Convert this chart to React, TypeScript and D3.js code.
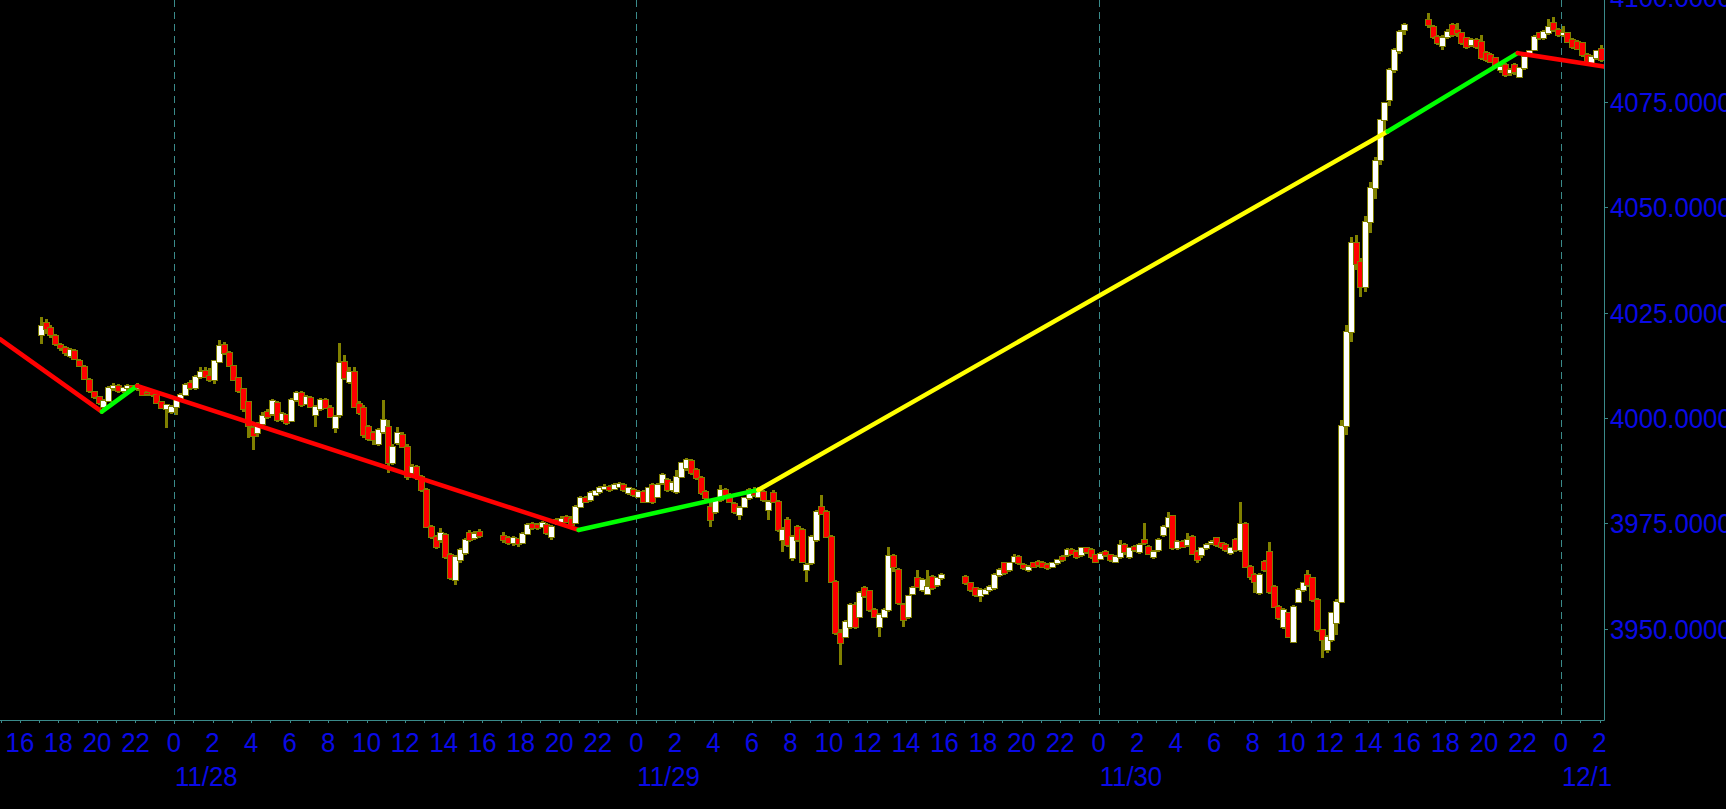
import { useMemo } from "react";
import * as d3 from "d3";

// 15-minute ES candles, [open, high, low, close], one array per Globex session
const SESSION_STARTS = ["2022-11-27T17:00:00Z", "2022-11-28T17:00:00Z", "2022-11-29T17:00:00Z", "2022-11-30T17:00:00Z"];

const SESSION_1 = [
  [4019.7, 4024.0, 4017.5, 4021.7], [4022.5, 4023.5, 4020.0, 4021.0], [4021.3, 4022.0, 4019.0, 4019.7], [4019.5, 4020.0, 4017.0, 4017.5],
  [4017.4, 4017.8, 4015.8, 4016.5], [4016.6, 4017.0, 4014.8, 4015.3], [4014.8, 4016.5, 4014.3, 4016.2], [4016.0, 4016.3, 4013.7, 4014.0],
  [4013.5, 4014.0, 4012.0, 4012.3], [4012.2, 4012.5, 4009.0, 4009.3], [4009.1, 4009.5, 4006.0, 4006.3], [4006.2, 4006.5, 4004.5, 4005.0],
  [4005.0, 4005.3, 4003.0, 4003.6], [4002.5, 4004.5, 4001.5, 4004.0], [4004.0, 4007.5, 4003.7, 4007.0], [4007.0, 4008.3, 4006.5, 4007.6],
  [4007.6, 4008.0, 4006.0, 4006.3], [4006.3, 4007.3, 4005.8, 4007.0], [4007.0, 4008.0, 4006.7, 4007.5], [4007.5, 4007.8, 4006.5, 4006.9],
  [4006.9, 4008.2, 4006.5, 4007.6], [4007.0, 4007.5, 4005.3, 4005.5], [4006.0, 4006.5, 4005.3, 4005.8], [4005.8, 4006.3, 4005.0, 4005.5],
  [4005.5, 4006.0, 4003.2, 4003.5], [4003.8, 4004.0, 4002.0, 4002.3], [4002.2, 4003.3, 3997.5, 4003.0], [4001.5, 4003.0, 4001.0, 4002.6],
  [4002.6, 4005.0, 4000.7, 4004.5], [4004.5, 4006.0, 4004.2, 4005.5], [4005.5, 4008.3, 4005.2, 4007.8], [4008.2, 4009.0, 4006.6, 4007.0],
  [4007.0, 4010.2, 4006.6, 4009.8], [4009.7, 4012.2, 4009.3, 4011.0], [4011.2, 4012.0, 4009.5, 4009.8], [4010.0, 4011.8, 4008.6, 4009.0],
  [4009.0, 4013.5, 4008.0, 4013.4], [4013.2, 4018.4, 4013.0, 4017.0], [4017.2, 4018.0, 4015.0, 4015.3], [4015.4, 4015.8, 4012.0, 4012.3],
  [4012.3, 4012.6, 4008.7, 4009.0], [4009.4, 4009.8, 4006.0, 4006.3], [4006.8, 4007.0, 4001.5, 4002.0], [4003.8, 4004.0, 3995.2, 3998.0],
  [3997.5, 3998.0, 3992.4, 3995.6], [3996.3, 3999.0, 3995.5, 3998.6], [3998.5, 4001.3, 3998.0, 4000.5], [4001.4, 4002.0, 3999.7, 4000.3],
  [4001.0, 4004.6, 4000.5, 4004.0], [4003.5, 4004.0, 3999.0, 3999.5], [3999.5, 4001.5, 3999.0, 4001.0], [4000.7, 4001.0, 3998.3, 3998.8],
  [3999.3, 4004.8, 3999.0, 4004.2], [4004.2, 4006.5, 4003.8, 4005.8], [4005.8, 4006.5, 4002.6, 4003.0], [4003.4, 4005.5, 4003.0, 4005.0],
  [4004.8, 4005.3, 4002.3, 4002.7], [4000.7, 4003.0, 3997.9, 4002.6], [4002.0, 4004.8, 4001.7, 4004.3], [4004.3, 4004.8, 4002.0, 4002.3],
  [4002.3, 4003.0, 4000.0, 4000.3], [3997.6, 4000.6, 3996.5, 4000.2], [4000.6, 4017.7, 4000.0, 4013.0], [4013.3, 4015.0, 4009.0, 4009.4],
  [4008.5, 4012.2, 4008.0, 4011.0], [4011.0, 4012.0, 4002.3, 4002.7], [4003.4, 4004.0, 4000.7, 4001.1], [4002.3, 4003.0, 3995.3, 3995.9],
  [3997.9, 3998.3, 3994.5, 3995.1], [3996.3, 3997.0, 3993.5, 3994.8], [3993.9, 3997.6, 3993.3, 3997.1], [3996.7, 4004.3, 3996.2, 3999.5],
  [3997.9, 3999.6, 3986.8, 3989.2], [3989.2, 3993.8, 3988.7, 3993.2], [3994.0, 3997.8, 3993.5, 3996.5], [3995.9, 3996.6, 3992.8, 3993.2],
  [3993.2, 3993.7, 3985.2, 3986.0], [3986.8, 3989.0, 3986.2, 3988.4], [3988.4, 3988.9, 3985.3, 3986.0], [3986.0, 3986.5, 3982.3, 3982.9],
  [3982.9, 3983.3, 3973.8, 3974.2], [3974.2, 3974.6, 3971.2, 3971.8], [3971.8, 3972.2, 3968.8, 3969.4], [3971.0, 3973.8, 3970.2, 3972.6],
  [3972.2, 3972.7, 3966.5, 3967.0], [3967.5, 3968.0, 3961.5, 3962.0], [3961.5, 3967.5, 3960.3, 3967.0], [3966.2, 3969.2, 3965.5, 3968.6],
  [3968.0, 3971.5, 3967.5, 3971.0], [3972.6, 3973.4, 3970.5, 3971.0], [3971.5, 3973.2, 3971.0, 3972.5], [3972.8, 3973.6, 3971.4, 3972.0],
];

const SESSION_2 = [
  [3972.0, 3973.0, 3970.2, 3971.0], [3971.5, 3972.0, 3969.8, 3970.3], [3970.3, 3972.0, 3969.7, 3971.4], [3971.3, 3971.6, 3969.3, 3970.1],
  [3970.4, 3973.0, 3970.0, 3972.5], [3972.5, 3975.1, 3972.2, 3974.6], [3974.8, 3975.3, 3973.4, 3973.8], [3974.5, 3975.0, 3973.3, 3973.8],
  [3974.2, 3975.5, 3973.8, 3975.0], [3974.6, 3975.0, 3972.2, 3972.6], [3971.8, 3974.6, 3970.9, 3974.2], [3975.8, 3976.3, 3974.5, 3975.0],
  [3975.4, 3976.6, 3975.0, 3976.1], [3976.5, 3977.0, 3975.0, 3975.4], [3976.1, 3976.6, 3974.2, 3974.6], [3975.0, 3979.3, 3974.7, 3978.9],
  [3978.9, 3981.4, 3978.5, 3980.9], [3980.9, 3981.5, 3979.7, 3980.1], [3980.5, 3982.6, 3980.1, 3982.1], [3981.8, 3983.0, 3981.4, 3982.6],
  [3982.3, 3983.8, 3982.0, 3983.3], [3983.2, 3984.3, 3982.8, 3983.7], [3983.6, 3984.0, 3982.4, 3982.8], [3983.2, 3984.6, 3982.9, 3984.0],
  [3983.7, 3984.8, 3983.3, 3984.2], [3984.1, 3984.5, 3982.5, 3982.9], [3982.1, 3983.7, 3981.7, 3983.3], [3982.9, 3983.3, 3981.3, 3981.7],
  [3981.3, 3983.0, 3980.9, 3982.5], [3982.5, 3983.0, 3979.7, 3980.1], [3980.1, 3983.7, 3979.7, 3983.3], [3984.1, 3984.5, 3979.5, 3980.1],
  [3981.3, 3984.6, 3980.9, 3984.1], [3984.5, 3987.0, 3984.0, 3986.4], [3985.3, 3985.8, 3982.5, 3982.9], [3982.9, 3985.0, 3982.4, 3984.5],
  [3982.5, 3987.6, 3982.0, 3986.0], [3986.0, 3989.6, 3985.7, 3989.2], [3988.0, 3990.4, 3987.5, 3990.0], [3989.8, 3990.2, 3986.4, 3986.8],
  [3987.6, 3988.0, 3985.3, 3985.7], [3985.7, 3986.1, 3981.7, 3982.1], [3982.5, 3982.9, 3980.5, 3980.9], [3978.9, 3980.5, 3974.2, 3975.8],
  [3977.7, 3981.0, 3977.2, 3980.5], [3980.5, 3984.1, 3980.0, 3982.9], [3982.9, 3983.3, 3981.3, 3981.7], [3981.7, 3982.1, 3979.7, 3980.1],
  [3979.5, 3980.0, 3977.2, 3977.7], [3977.0, 3979.0, 3975.8, 3978.5], [3978.9, 3981.3, 3978.5, 3980.9], [3980.9, 3983.3, 3980.5, 3982.9],
  [3982.9, 3983.5, 3981.3, 3981.7], [3981.3, 3983.6, 3980.9, 3983.0], [3982.5, 3983.0, 3980.0, 3980.5], [3978.1, 3980.6, 3975.8, 3980.1],
  [3982.1, 3982.9, 3979.7, 3980.1], [3980.1, 3980.5, 3972.9, 3973.4], [3971.0, 3974.0, 3968.2, 3973.4], [3975.8, 3976.5, 3969.4, 3969.8],
  [3966.7, 3972.2, 3966.0, 3971.8], [3974.2, 3974.6, 3970.6, 3971.0], [3973.4, 3973.8, 3965.5, 3965.9], [3963.9, 3965.6, 3961.1, 3965.1],
  [3965.5, 3972.2, 3965.0, 3971.8], [3971.0, 3978.1, 3970.6, 3977.7], [3978.9, 3981.7, 3976.9, 3977.3], [3977.7, 3978.1, 3971.4, 3971.8],
  [3971.8, 3972.2, 3960.7, 3961.1], [3961.1, 3961.5, 3948.5, 3949.0], [3949.0, 3950.0, 3941.3, 3946.5], [3948.1, 3952.0, 3947.7, 3951.6],
  [3950.4, 3956.0, 3950.0, 3955.6], [3955.6, 3956.2, 3950.0, 3950.4], [3952.8, 3958.8, 3952.4, 3958.4], [3959.5, 3960.0, 3957.2, 3957.6],
  [3958.8, 3959.2, 3954.0, 3954.4], [3954.4, 3954.8, 3952.4, 3952.8], [3950.4, 3953.6, 3948.1, 3953.2], [3952.8, 3954.8, 3952.4, 3954.4],
  [3954.4, 3969.4, 3954.0, 3967.1], [3967.1, 3967.8, 3963.5, 3964.5], [3963.9, 3964.3, 3955.6, 3956.0], [3955.6, 3956.0, 3950.4, 3952.0],
  [3952.8, 3958.0, 3952.3, 3957.6], [3958.3, 3960.0, 3957.9, 3959.5], [3961.9, 3963.9, 3959.5, 3959.9], [3959.1, 3962.0, 3958.7, 3961.5],
  [3958.3, 3963.9, 3958.0, 3959.9], [3962.3, 3962.7, 3959.1, 3959.5], [3960.3, 3962.3, 3959.9, 3961.9], [3961.9, 3963.1, 3961.5, 3962.7],
];

const SESSION_3 = [
  [3962.3, 3962.7, 3960.3, 3960.7], [3960.7, 3961.1, 3958.7, 3959.1], [3959.5, 3959.9, 3957.5, 3957.9], [3957.6, 3959.5, 3956.4, 3959.1],
  [3958.3, 3959.5, 3957.9, 3959.1], [3959.1, 3960.3, 3958.7, 3959.9], [3959.5, 3963.1, 3959.1, 3962.7], [3962.7, 3964.3, 3962.3, 3963.9],
  [3965.5, 3965.9, 3962.7, 3963.1], [3963.9, 3965.9, 3963.5, 3965.5], [3965.9, 3967.8, 3965.5, 3967.0], [3967.0, 3967.4, 3965.1, 3965.5],
  [3965.1, 3965.5, 3963.9, 3964.3], [3963.9, 3965.1, 3963.5, 3964.7], [3965.5, 3965.9, 3964.3, 3964.7], [3965.9, 3966.3, 3964.7, 3965.1],
  [3965.5, 3966.0, 3964.3, 3964.7], [3965.1, 3965.5, 3963.9, 3964.3], [3964.7, 3965.9, 3964.3, 3965.5], [3965.5, 3966.6, 3965.1, 3966.3],
  [3967.0, 3967.4, 3965.9, 3966.3], [3967.4, 3969.0, 3967.0, 3968.6], [3968.6, 3969.0, 3967.4, 3967.8], [3968.2, 3968.6, 3966.6, 3967.0],
  [3967.4, 3969.4, 3967.0, 3969.0], [3969.0, 3969.4, 3967.8, 3968.2], [3968.6, 3969.0, 3966.6, 3967.0], [3967.4, 3967.8, 3965.5, 3965.9],
  [3966.6, 3968.2, 3966.3, 3967.8], [3968.2, 3968.6, 3967.0, 3967.4], [3967.4, 3967.8, 3965.9, 3966.3], [3965.9, 3967.4, 3965.5, 3967.0],
  [3967.0, 3971.0, 3966.6, 3969.8], [3969.8, 3970.2, 3967.4, 3968.2], [3967.0, 3969.4, 3966.6, 3969.0], [3969.4, 3969.8, 3968.2, 3968.6],
  [3968.2, 3970.2, 3967.8, 3969.8], [3971.0, 3975.0, 3969.8, 3970.2], [3969.4, 3969.8, 3967.4, 3967.8], [3967.0, 3968.6, 3966.6, 3968.2],
  [3968.6, 3971.4, 3968.2, 3971.0], [3972.2, 3974.6, 3971.8, 3974.2], [3974.2, 3977.7, 3973.8, 3976.2], [3976.6, 3977.0, 3968.6, 3969.0],
  [3969.0, 3971.0, 3968.6, 3970.6], [3970.6, 3971.0, 3969.0, 3969.4], [3969.8, 3972.6, 3969.4, 3971.0], [3971.8, 3972.2, 3967.4, 3967.8],
  [3968.2, 3968.6, 3965.5, 3966.3], [3967.4, 3969.4, 3966.8, 3969.0], [3969.0, 3970.2, 3968.6, 3969.8], [3970.2, 3971.0, 3969.8, 3970.6],
  [3971.4, 3971.8, 3969.4, 3969.8], [3970.2, 3970.6, 3968.9, 3969.4], [3969.8, 3970.2, 3968.2, 3968.6], [3967.9, 3969.4, 3967.4, 3969.0],
  [3971.0, 3971.4, 3968.2, 3968.6], [3968.6, 3980.1, 3968.2, 3974.9], [3974.9, 3975.3, 3964.3, 3964.7], [3964.7, 3965.1, 3961.5, 3962.3],
  [3962.7, 3963.1, 3958.4, 3961.1], [3958.4, 3963.1, 3958.0, 3962.7], [3965.9, 3966.3, 3963.5, 3963.9], [3968.2, 3970.6, 3958.3, 3958.7],
  [3959.9, 3960.3, 3954.8, 3955.2], [3955.2, 3955.6, 3952.0, 3952.4], [3950.4, 3954.8, 3950.0, 3954.4], [3953.6, 3954.0, 3947.7, 3948.1],
  [3946.9, 3955.6, 3946.5, 3955.2], [3956.4, 3959.5, 3956.0, 3959.1], [3959.1, 3961.1, 3958.7, 3960.7], [3962.7, 3963.9, 3959.9, 3960.3],
  [3961.9, 3962.3, 3956.4, 3956.8], [3956.8, 3957.2, 3949.2, 3949.6], [3949.6, 3950.0, 3942.9, 3947.3], [3944.9, 3948.5, 3944.1, 3948.1],
  [3947.3, 3954.0, 3946.9, 3953.6], [3951.2, 3957.0, 3948.5, 3956.4], [3956.4, 3999.5, 3956.0, 3998.0], [3998.0, 4022.0, 3996.0, 4020.5],
  [4020.5, 4043.0, 4018.0, 4041.5], [4041.5, 4043.5, 4035.0, 4036.5], [4037.0, 4038.0, 4028.7, 4031.0], [4031.0, 4048.0, 4030.0, 4046.5],
  [4046.5, 4056.0, 4044.0, 4054.5], [4054.5, 4062.0, 4052.0, 4061.0], [4061.2, 4071.0, 4060.0, 4070.7], [4070.7, 4075.0, 4067.5, 4074.7],
  [4075.5, 4083.0, 4074.0, 4082.6], [4082.6, 4087.9, 4082.0, 4087.4], [4087.0, 4092.0, 4086.5, 4091.7], [4092.0, 4093.8, 4091.0, 4093.3],
];

const SESSION_4 = [
  [4094.5, 4096.1, 4092.5, 4093.3], [4092.9, 4093.3, 4090.0, 4090.5], [4090.5, 4091.0, 4088.5, 4088.9], [4088.2, 4091.0, 4087.3, 4090.1],
  [4090.5, 4092.3, 4090.0, 4091.7], [4093.3, 4093.8, 4090.5, 4090.9], [4092.1, 4093.7, 4090.5, 4091.3], [4091.3, 4091.7, 4088.5, 4088.9],
  [4090.1, 4090.5, 4087.7, 4088.1], [4088.5, 4090.1, 4088.1, 4089.7], [4089.7, 4090.1, 4087.6, 4088.1], [4089.3, 4090.9, 4085.0, 4085.4],
  [4086.6, 4087.0, 4084.6, 4085.0], [4086.2, 4086.6, 4084.2, 4084.6], [4085.4, 4085.8, 4083.0, 4083.4], [4082.6, 4084.0, 4081.8, 4083.4],
  [4083.8, 4084.2, 4081.0, 4081.4], [4081.8, 4083.0, 4081.2, 4082.6], [4083.8, 4084.2, 4081.4, 4082.2], [4081.0, 4083.4, 4080.6, 4083.0],
  [4083.0, 4086.2, 4082.6, 4085.8], [4086.2, 4087.4, 4085.8, 4087.0], [4087.4, 4091.0, 4087.0, 4090.5], [4091.3, 4091.7, 4089.7, 4090.1],
  [4090.1, 4092.1, 4089.7, 4091.7], [4091.3, 4094.7, 4091.0, 4092.9], [4093.7, 4095.2, 4091.7, 4092.1], [4092.1, 4092.5, 4090.5, 4090.9],
  [4090.9, 4093.0, 4090.5, 4091.5], [4091.3, 4091.7, 4088.9, 4089.3], [4089.7, 4090.1, 4087.7, 4088.1], [4089.3, 4089.7, 4087.3, 4087.7],
  [4088.9, 4089.3, 4085.8, 4086.2], [4086.2, 4086.6, 4084.2, 4084.6], [4084.2, 4086.2, 4083.8, 4085.8], [4085.4, 4087.4, 4085.0, 4087.0],
  [4087.7, 4088.5, 4084.6, 4085.0],
];

const SESSIONS = [SESSION_1, SESSION_2, SESSION_3, SESSION_4];

// swing lines: pivot times, prices and the colour of each leg
const PIVOT_TIMES = ["2022-11-27T14:58:00Z", "2022-11-27T20:15:00Z", "2022-11-27T22:05:00Z", "2022-11-28T21:00:00Z", "2022-11-29T06:20:00Z", "2022-11-30T15:00:00Z", "2022-11-30T21:45:00Z", "2022-12-01T02:14:00Z"];
const PIVOT_PRICES = [4018.7, 4001.5, 4007.6, 3973.4, 3982.9, 4068.0, 4086.6, 4083.4];
const LEG_COLORS = ["#ff0000", "#00ff00", "#ff0000", "#00ff00", "#ffff00", "#00ff00", "#ff0000"];

const Y_TICKS = [3950, 3975, 4000, 4025, 4050, 4075, 4100];
const X_START = "2022-11-27T14:58:00Z";
const X_END = "2022-12-01T02:14:00Z";

const W = 1726;
const H = 809;
const PLOT_R = 1604;
const PLOT_B = 720;
const AXIS = "#3a8a8a";
const LABEL = "#0a0ae6";
const OLIVE = "#808000";
const FONT = "'Liberation Sans', Arial, sans-serif";
const FS = 28;
const SX = 0.92;

function Label({ x, y, anchor = "start", children }: { x: number; y: number; anchor?: string; children: string }) {
  return (
    <text transform={`translate(${x},${y}) scale(${SX},1)`} fill={LABEL} fontFamily={FONT} fontSize={FS} textAnchor={anchor}>
      {children}
    </text>
  );
}

export default function App() {
  const x = d3.scaleUtc().domain([new Date(X_START), new Date(X_END)]).range([0, PLOT_R]);
  const y = d3.scaleLinear().domain([3950, 4075]).range([628.5, 102]);

  const candles = useMemo(
    () =>
      SESSIONS.flatMap((s, si) => {
        const t0 = +new Date(SESSION_STARTS[si]);
        return s.map((c, i) => ({ t: new Date(t0 + i * 900000 + 300000), o: c[0], h: c[1], l: c[2], c: c[3] }));
      }),
    []
  );

  const hours = x.ticks(d3.utcHour.every(1)!);
  const days = x.ticks(d3.utcDay.every(1)!);
  const fmtHour = d3.utcFormat("%-H");
  const fmtDay = d3.utcFormat("%-m/%-d");
  const fmtPrice = d3.format(".4f");

  const legs = PIVOT_PRICES.slice(1).map((p, i) => ({
    x1: x(new Date(PIVOT_TIMES[i])),
    y1: y(PIVOT_PRICES[i]),
    x2: x(new Date(PIVOT_TIMES[i + 1])),
    y2: y(p),
    color: LEG_COLORS[i],
  }));

  return (
    <div style={{ position: "fixed", left: 0, top: 0, width: W, height: H, overflow: "hidden" }}>
      <svg width={W} height={H} style={{ display: "block", background: "#000" }}>
        <defs>
          <clipPath id="plot">
            <rect x={0} y={0} width={PLOT_R} height={PLOT_B} />
          </clipPath>
        </defs>
        <rect width={W} height={H} fill="#000" />

        {/* day separators */}
        {days.map((d) => (
          <line key={+d} x1={Math.round(x(d)) + 0.5} x2={Math.round(x(d)) + 0.5} y1={0} y2={PLOT_B + 4}
            stroke={AXIS} strokeWidth={1} strokeDasharray="7,5" />
        ))}

        <g clipPath="url(#plot)" shapeRendering="crispEdges">
          {candles.map((c, i) => {
            const cx = Math.round(x(c.t));
            const top = Math.round(y(Math.max(c.o, c.c)));
            const bot = Math.round(y(Math.min(c.o, c.c)));
            const hi = Math.round(y(c.h));
            const lo = Math.round(y(c.l));
            return (
              <g key={i}>
                <rect x={cx - 1} y={hi} width={3} height={Math.max(1, lo - hi)} fill={OLIVE} />
                <rect x={cx - 3} y={top - 1} width={7} height={Math.max(3, bot - top + 2)} fill={OLIVE} />
                <rect x={cx - 2} y={top} width={5} height={Math.max(1, bot - top)}
                  fill={c.c >= c.o ? "#ffffff" : "#ff0000"} />
              </g>
            );
          })}
        </g>

        <g clipPath="url(#plot)">
          {legs.map((l, i) => (
            <line key={i} x1={l.x1} y1={l.y1} x2={l.x2} y2={l.y2} stroke={l.color} strokeWidth={4.5} strokeLinecap="round" />
          ))}
        </g>

        {/* axes frame */}
        <line x1={0} x2={PLOT_R + 0.5} y1={PLOT_B + 0.5} y2={PLOT_B + 0.5} stroke={AXIS} />
        <line x1={PLOT_R + 0.5} x2={PLOT_R + 0.5} y1={0} y2={PLOT_B + 0.5} stroke={AXIS} />

        {hours.map((h) => (
          <line key={+h} x1={Math.round(x(h)) + 0.5} x2={Math.round(x(h)) + 0.5} y1={PLOT_B} y2={PLOT_B + 3} stroke={AXIS} />
        ))}
        {hours.filter((h) => h.getUTCHours() % 2 === 0).map((h) => (
          <Label key={+h} x={x(h)} y={752} anchor="middle">{fmtHour(h)}</Label>
        ))}
        {days.map((d) => (
          <Label key={+d} x={x(d) + 1} y={786}>{fmtDay(d)}</Label>
        ))}

        {Y_TICKS.map((v) => (
          <g key={v}>
            <line x1={PLOT_R} x2={PLOT_R + 4} y1={Math.round(y(v)) + 0.5} y2={Math.round(y(v)) + 0.5} stroke={AXIS} />
            <Label x={PLOT_R + 6} y={y(v) + 10}>{fmtPrice(v)}</Label>
          </g>
        ))}
      </svg>
    </div>
  );
}
